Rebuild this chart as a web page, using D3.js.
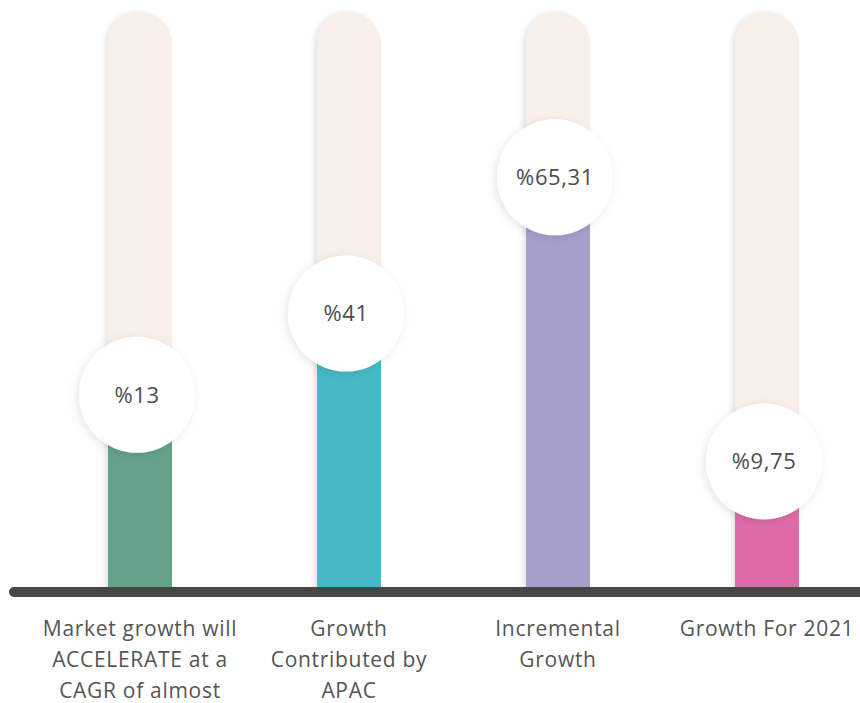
<!DOCTYPE html>
<html>
  <head>
    <meta charset="utf-8" />
    <title>growth bars</title>
    <script src="https://cdn.jsdelivr.net/npm/d3@7"></script>
    <style type="text/css">
      body { margin: 0; background: #fff; }
      text { font-family: "Open Sans", Lato, sans-serif; fill: #555; }
    </style>
  </head>
  <body>
    <svg id="chart" width="860" height="703"></svg>
    <script type="text/javascript">
      // values
      var categories = [
        ['Market growth will', 'ACCELERATE at a', 'CAGR of almost'],
        ['Growth', 'Contributed by', 'APAC'],
        ['Incremental', 'Growth'],
        ['Growth For 2021'],
      ];
      var valueLabels = ['%13', '%41', '%65,31', '%9,75'];
      var fillLevel = [34, 48, 71.5, 22.5]; // how far up the track each bar reaches (%)
      var colors = ['#64a38a', '#47b9c6', '#a59fcc', '#dd6ca6'];

      var svg = d3.select('#chart');
      var W = 860, baseY = 592, topY = 12, barW = 64;

      var x = d3.scalePoint().domain(d3.range(4)).range([140, 767]);
      var y = d3.scaleLinear().domain([0, 100]).range([baseY, topY]);

      var defs = svg.append('defs');
      var f = defs.append('filter').attr('id', 'sh').attr('x', '-30%').attr('y', '-30%').attr('width', '160%').attr('height', '160%');
      f.append('feDropShadow').attr('dx', -2).attr('dy', 2).attr('stdDeviation', 4).attr('flood-color', '#000').attr('flood-opacity', 0.1);
      var f2 = defs.append('filter').attr('id', 'sh2').attr('x', '-30%').attr('y', '-10%').attr('width', '160%').attr('height', '120%');
      f2.append('feDropShadow').attr('dx', -3).attr('dy', 0).attr('stdDeviation', 2.5).attr('flood-color', '#000').attr('flood-opacity', 0.1);

      // tracks
      svg.selectAll('path.track').data(fillLevel).enter().append('path')
        .attr('class', 'track')
        .attr('filter', 'url(#sh2)')
        .attr('fill', '#f8efe8')
        .attr('d', function (d, i) {
          var l = x(i) - barW / 2, r = barW / 2;
          var p = d3.path();
          p.moveTo(l, baseY);
          p.lineTo(l, y(100) + r);
          p.arc(l + r, y(100) + r, r, Math.PI, 0);
          p.lineTo(l + barW, baseY);
          p.closePath();
          return p.toString();
        });

      // coloured fills
      svg.selectAll('rect.fill').data(fillLevel).enter().append('rect')
        .attr('class', 'fill')
        .attr('x', (d, i) => x(i) - barW / 2)
        .attr('width', barW)
        .attr('y', (d) => y(d))
        .attr('height', (d) => baseY - y(d))
        .attr('fill', (d, i) => colors[i]);

      // baseline
      svg.append('line')
        .attr('x1', 14).attr('x2', W + 10)
        .attr('y1', baseY).attr('y2', baseY)
        .attr('stroke', '#464646').attr('stroke-width', 10).attr('stroke-linecap', 'round');

      // bubbles
      var g = svg.selectAll('g.bubble').data(fillLevel).enter().append('g')
        .attr('class', 'bubble')
        .attr('transform', (d, i) => 'translate(' + (x(i) - 3) + ',' + y(d) + ')');
      g.append('circle').attr('r', 58).attr('fill', '#fff').attr('filter', 'url(#sh)');
      g.append('text')
        .attr('text-anchor', 'middle').attr('dy', '0.35em')
        .style('font-size', '22px').style('letter-spacing', '0.6px').style('fill', '#4d4d4d')
        .text((d, i) => valueLabels[i]);

      // category labels
      var lab = svg.selectAll('text.cat').data(categories).enter().append('text')
        .attr('class', 'cat')
        .attr('text-anchor', 'middle')
        .style('font-size', '21px')
        .style('letter-spacing', '0.7px');
      lab.selectAll('tspan').data((d, i) => d.map((s) => [s, i])).enter().append('tspan')
        .attr('x', (d) => x(d[1]))
        .attr('y', (d, j) => 636 + j * 31)
        .text((d) => d[0]);
    </script>
  </body>
</html>
